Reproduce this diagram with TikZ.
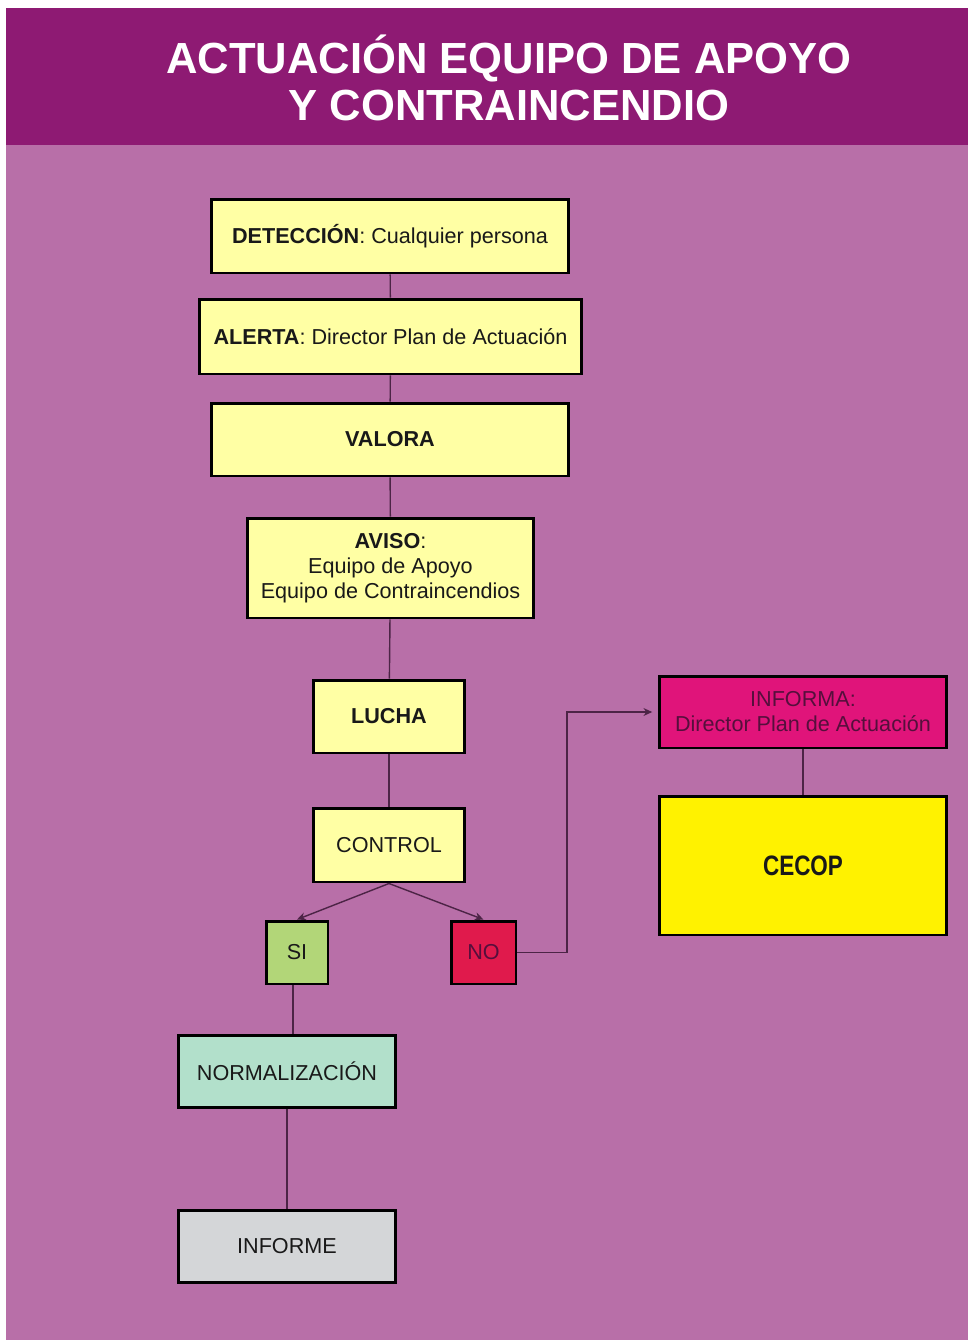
\documentclass[tikz,border=0pt]{standalone}
\usepackage{fontspec}
\setmainfont{Liberation Sans}
\usetikzlibrary{arrows.meta}
\definecolor{band}{RGB}{142,26,115}
\definecolor{backpink}{RGB}{184,111,168}
\definecolor{paleyellow}{RGB}{255,255,164}
\definecolor{sigreen}{RGB}{178,214,120}
\definecolor{nored}{RGB}{224,26,76}
\definecolor{mint}{RGB}{178,224,203}
\definecolor{palegrey}{RGB}{212,214,216}
\definecolor{informa}{RGB}{224,20,122}
\definecolor{informatext}{RGB}{85,15,60}
\definecolor{cecop}{RGB}{255,242,0}
\definecolor{wire}{RGB}{76,36,70}
\tikzset{
  box/.style={draw=black, line width=1.7pt, fill=paleyellow, text=black!90,
    align=center, inner sep=0pt, font=\fontsize{12.3}{14.2}\selectfont},
  link/.style={draw=wire, line width=0.8pt},
  arrowlink/.style={link, -{Stealth[length=5pt,width=4.5pt]}},
}

\begin{document}
\begin{tikzpicture}[x=0.02cm,y=-0.02cm]

% page and title band
\fill[white] (0,0) rectangle (971,1342);
\fill[band] (6,8) rectangle (968,145);
\fill[backpink] (6,145) rectangle (968,1340);
\node (title) at (509,78) [text=white,align=center,font=\bfseries\fontsize{24.8}{26.7}\selectfont]
    {ACTUACIÓN EQUIPO DE APOYO\\Y CONTRAINCENDIO};

% main column
\node [box,minimum width=7.16cm,minimum height=1.48cm] (detec) at (390,236) {\textbf{DETECCIÓN}: Cualquier persona};
\node [box,minimum width=7.66cm,minimum height=1.5cm] (alerta) at (390.5,336.5) {\textbf{ALERTA}: Director Plan de Actuación};
\node [box,minimum width=7.16cm,minimum height=1.46cm] (valora) at (390,439.5) {\textbf{VALORA}};
\node [box,minimum width=5.74cm,minimum height=2cm] (aviso) at (390.5,568) {\textbf{AVISO}:\\Equipo de Apoyo\\Equipo de Contraincendios};
\node [box,minimum width=3.04cm,minimum height=1.46cm] (lucha) at (389,716.5) {\textbf{LUCHA}};
\node [box,minimum width=3.04cm,minimum height=1.48cm] (control) at (389,845) {CONTROL};
\node [box,fill=sigreen,minimum width=1.24cm,minimum height=1.26cm] (si) at (297,952.5) {SI};
\node [box,fill=nored,text=informatext,minimum width=1.3cm,minimum height=1.26cm] (no) at (483.5,952.5) {NO};
\node [box,fill=mint,minimum width=4.36cm,minimum height=1.44cm] (normal) at (287,1071) {NORMALIZACIÓN};
\node [box,fill=palegrey,minimum width=4.36cm,minimum height=1.44cm] (informe) at (287,1246) {INFORME};

% right column
\node [box,fill=informa,text=informatext,minimum width=5.76cm,minimum height=1.44cm] (informa) at (803,712) {INFORMA:\\Director Plan de Actuación};
\node [box,fill=cecop,minimum width=5.76cm,minimum height=2.78cm,font=\bfseries\fontsize{16}{18}\selectfont] (cecop) at (803,865.5) {\scalebox{0.8}[1]{CECOP}};
\coordinate (bend) at (567,712);

\draw [link] (detec) -- (alerta);
\draw [link] (alerta) -- (valora);
\draw [link] (valora) -- (aviso);
\draw [link] (aviso) -- (lucha);
\draw [link] (lucha) -- (control);
\draw [arrowlink] (control.south) -- (si.north);
\draw [arrowlink] (control.south) -- (no.north);
\draw [link] ([xshift=-2.3pt]si.south) -- ([xshift=-2.3pt]si.south |- normal.north);
\draw [link] (normal) -- (informe);
\draw [arrowlink,shorten >=3pt] (no.east) -| (bend) -- (informa.west);
\draw [link] (informa) -- (cecop);

\end{tikzpicture}
\end{document}
